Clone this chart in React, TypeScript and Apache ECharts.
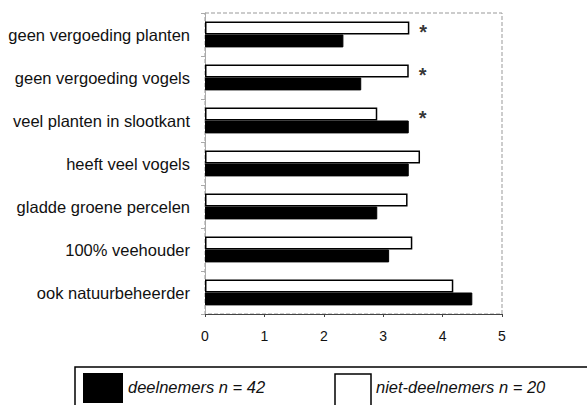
import React, { useEffect, useRef } from "react";
import * as echarts from "echarts";

const categories = [
  "geen vergoeding planten",
  "geen vergoeding vogels",
  "veel planten in slootkant",
  "heeft veel vogels",
  "gladde groene percelen",
  "100% veehouder",
  "ook natuurbeheerder",
];
const nietDeelnemers = [3.44, 3.43, 2.9, 3.62, 3.41, 3.49, 4.18];
const deelnemers = [2.33, 2.63, 3.43, 3.43, 2.9, 3.1, 4.5];
const significant = [true, true, true, false, false, false, false];
const xTicks = [0, 1, 2, 3, 4, 5];

const FONT = "'Liberation Sans', Arial, sans-serif";

export default function App() {
  const ref = useRef<HTMLDivElement>(null);
  useEffect(() => {
    if (!ref.current) return;
    const chart = echarts.init(ref.current, null, { renderer: "svg" });
    const starData = categories.map((c, i) =>
      significant[i] ? [Math.max(nietDeelnemers[i], deelnemers[i]), c] : null
    ).filter((d) => d !== null);
    chart.setOption({
      animation: false,
      backgroundColor: "#fff",
      grid: {
        left: 205,
        right: 85,
        top: 13,
        bottom: 91,
        show: true,
        borderColor: "#999",
        borderWidth: 1,
        borderType: "dashed",
      },
      xAxis: {
        type: "value",
        min: xTicks[0],
        max: xTicks[xTicks.length - 1],
        interval: 1,
        splitLine: { show: false },
        axisLine: { show: true, lineStyle: { color: "#444", width: 1 } },
        axisTick: { show: true, length: 3, lineStyle: { color: "#444" } },
        axisLabel: {
          color: "#111",
          fontFamily: FONT,
          fontSize: 14,
          margin: 15,
        },
      },
      yAxis: {
        type: "category",
        data: categories,
        inverse: true,
        axisLine: { show: true, lineStyle: { color: "#aaa", width: 1 } },
        axisTick: { show: true, length: 4, lineStyle: { color: "#aaa" } },
        axisLabel: {
          color: "#111",
          fontFamily: FONT,
          fontSize: 16.5,
          margin: 15,
        },
      },
      series: [
        {
          name: "niet-deelnemers n = 20",
          type: "bar",
          data: nietDeelnemers,
          barGap: "0%",
          barCategoryGap: "40%",
          itemStyle: { color: "#fff", borderColor: "#000", borderWidth: 1.5 },
        },
        {
          name: "deelnemers n = 42",
          type: "bar",
          data: deelnemers,
          barGap: "0%",
          barCategoryGap: "40%",
          itemStyle: { color: "#000", borderColor: "#000", borderWidth: 1 },
        },
        {
          name: "significant",
          type: "scatter",
          data: starData,
          symbolSize: 0,
          silent: true,
          label: {
            show: true,
            formatter: "*",
            position: "right",
            distance: 10,
            offset: [0, -3],
            color: "#000",
            fontFamily: FONT,
            fontWeight: "bold",
            fontSize: 20,
          },
        },
      ],
      graphic: [
        {
          type: "rect",
          shape: { x: 75, y: 367, width: 600, height: 80 },
          style: { fill: "none", stroke: "#000", lineWidth: 1.5 },
        },
        {
          type: "rect",
          shape: { x: 83, y: 373, width: 40, height: 30 },
          style: { fill: "#000" },
        },
        {
          type: "text",
          x: 128,
          y: 387,
          style: {
            text: "deelnemers n = 42",
            fontFamily: FONT,
            fontStyle: "italic",
            fontSize: 16.5,
            fill: "#111",
            verticalAlign: "middle",
          },
        },
        {
          type: "rect",
          shape: { x: 335, y: 374, width: 36, height: 34 },
          style: { fill: "#fff", stroke: "#000", lineWidth: 1.5 },
        },
        {
          type: "text",
          x: 376,
          y: 387,
          style: {
            text: "niet-deelnemers n = 20",
            fontFamily: FONT,
            fontStyle: "italic",
            fontSize: 16.5,
            fill: "#111",
            verticalAlign: "middle",
          },
        },
      ],
    });
    return () => chart.dispose();
  }, []);
  return <div ref={ref} style={{ width: 587, height: 405, position: "absolute", left: 0, top: 0 }} />;
}
